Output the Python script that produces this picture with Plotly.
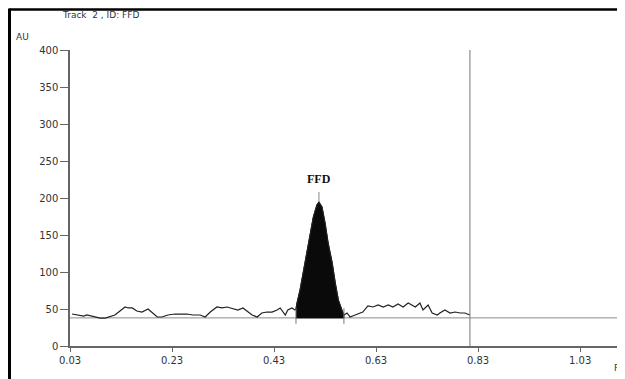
import plotly.graph_objects as go

# ---- data ----
# noise trace left of the peak
left_x = [0.034, 0.050, 0.057, 0.063, 0.079, 0.089, 0.099, 0.105, 0.118, 0.128, 0.138, 0.144,
          0.152, 0.161, 0.171, 0.183, 0.191, 0.201, 0.210, 0.222, 0.236, 0.250, 0.259, 0.271,
          0.285, 0.295, 0.305, 0.318, 0.328, 0.338, 0.350, 0.359, 0.369, 0.379, 0.387, 0.397,
          0.406, 0.416, 0.426, 0.436, 0.442, 0.452, 0.457, 0.465, 0.471]
left_y = [43.2, 41.9, 40.5, 41.9, 39.2, 37.8, 37.8, 39.2, 41.9, 47.3, 52.7, 51.4,
          51.4, 47.3, 45.9, 50.0, 44.6, 39.2, 39.2, 41.9, 43.2, 43.2, 43.2, 41.9,
          41.9, 39.2, 45.9, 52.7, 51.4, 52.7, 50.0, 48.6, 51.4, 45.9, 41.9, 39.2,
          44.6, 45.9, 45.9, 48.6, 51.4, 41.9, 48.6, 51.4, 48.6]
# the FFD peak
peak_x = [0.473, 0.475, 0.481, 0.487, 0.495, 0.501, 0.507, 0.514, 0.518, 0.524, 0.530,
          0.536, 0.544, 0.550, 0.556, 0.563, 0.567]
peak_y = [50.0, 58.1, 75.7, 98.6, 125.7, 152.7, 174.3, 190.5, 194.6, 187.8, 166.2,
          139.2, 112.2, 85.1, 62.2, 48.6, 41.9]
# noise trace right of the peak
right_x = [0.573, 0.579, 0.589, 0.599, 0.604, 0.614, 0.624, 0.634, 0.644, 0.654, 0.663,
           0.673, 0.683, 0.693, 0.701, 0.707, 0.716, 0.722, 0.732, 0.740, 0.750, 0.755,
           0.765, 0.775, 0.785, 0.795, 0.804, 0.810, 0.814]
right_y = [44.6, 39.2, 41.9, 44.6, 45.9, 54.1, 52.7, 55.4, 52.7, 55.4, 52.7,
           56.8, 52.7, 58.1, 55.4, 52.7, 58.1, 48.6, 55.4, 44.6, 41.9, 44.6,
           48.6, 44.6, 45.9, 44.6, 44.6, 43.2, 41.9]

baseline_level = 38
peak_label = "FFD"
peak_top_x = 0.518
peak_marker_top = 208
peak_start, peak_end = 0.473, 0.567
marker_low, marker_high = 30, 51
scan_end = 0.814

x_ticks = [0.03, 0.23, 0.43, 0.63, 0.83, 1.03]
x_ticklabels = ["0.03", "0.23", "0.43", "0.63", "0.83", "1.03"]
y_ticks = [0, 50, 100, 150, 200, 250, 300, 350, 400]
x_range = [0.03, 1.118]
y_range = [0, 400]

title_text = "Track  2 , ID: FFD"
y_title = "AU"
x_title = "R"

FONT = "DejaVu Sans"

# ---- figure ----
fig = go.Figure()

# baseline over the whole plot
fig.add_trace(go.Scatter(x=x_range, y=[baseline_level, baseline_level], mode="lines",
                         line=dict(color="#8a8a8a", width=1), hoverinfo="skip"))

# filled peak area (polygon between curve and baseline)
fill_x = peak_x + [peak_end, peak_start]
fill_y = peak_y + [baseline_level, baseline_level]
fig.add_trace(go.Scatter(x=fill_x, y=fill_y, mode="lines", fill="toself",
                         fillcolor="#0a0a0a", line=dict(color="#0a0a0a", width=1),
                         hoverinfo="skip"))

# full densitogram line
all_x = left_x + peak_x + right_x
all_y = left_y + peak_y + right_y
fig.add_trace(go.Scatter(x=all_x, y=all_y, mode="lines",
                         line=dict(color="#222222", width=1.2), hoverinfo="skip"))

# peak start/end marks
for px in (peak_start, peak_end):
    fig.add_trace(go.Scatter(x=[px, px], y=[marker_low, marker_high], mode="lines",
                             line=dict(color="#777777", width=1), hoverinfo="skip"))
# peak maximum mark
fig.add_trace(go.Scatter(x=[peak_top_x, peak_top_x], y=[max(peak_y), peak_marker_top],
                         mode="lines", line=dict(color="#888888", width=1), hoverinfo="skip"))

# scan end vertical line
fig.add_trace(go.Scatter(x=[scan_end, scan_end], y=y_range, mode="lines",
                         line=dict(color="#777777", width=1), hoverinfo="skip"))

fig.add_annotation(x=peak_top_x, y=226, text="<b>%s</b>" % peak_label, showarrow=False,
                   font=dict(family="Liberation Serif", size=12, color="#111"),
                   xanchor="center", yanchor="middle")

fig.add_annotation(xref="paper", yref="paper", x=-0.018, y=1.118, text=title_text,
                   showarrow=False, xanchor="left", yanchor="middle",
                   font=dict(family=FONT, size=9, color="#333"))
fig.add_annotation(xref="paper", yref="paper", x=-0.101, y=1.044, text=y_title,
                   showarrow=False, xanchor="left", yanchor="middle",
                   font=dict(family=FONT, size=9, color="#333"))
fig.add_annotation(xref="paper", yref="paper", x=0.976, y=-0.075, text=x_title,
                   showarrow=False, xanchor="left", yanchor="middle",
                   font=dict(family=FONT, size=9, color="#333"))

# outer frame (left and top borders)
fig.add_shape(type="line", xref="paper", yref="paper", x0=-0.109, x1=-0.109, y0=1.14, y1=-0.14,
              line=dict(color="black", width=3))
fig.add_shape(type="line", xref="paper", yref="paper", x0=-0.109, x1=1.0, y0=1.137, y1=1.137,
              line=dict(color="black", width=2.5))

fig.update_layout(
    width=617, height=371,
    margin=dict(l=62, r=0, t=42, b=33),
    paper_bgcolor="white", plot_bgcolor="white",
    showlegend=False,
    xaxis=dict(range=x_range, tickvals=x_ticks, ticktext=x_ticklabels,
               showgrid=False, zeroline=False, showline=True, linecolor="#666", linewidth=2,
               ticks="outside", ticklen=4, tickcolor="#666",
               tickfont=dict(family=FONT, size=10, color="#333")),
    yaxis=dict(range=y_range, tickvals=y_ticks,
               showgrid=False, zeroline=False, showline=True, linecolor="#666", linewidth=1.5,
               ticks="outside", ticklen=8, tickcolor="#666",
               tickfont=dict(family=FONT, size=10, color="#333")),
)

fig.write_html("out.html")
